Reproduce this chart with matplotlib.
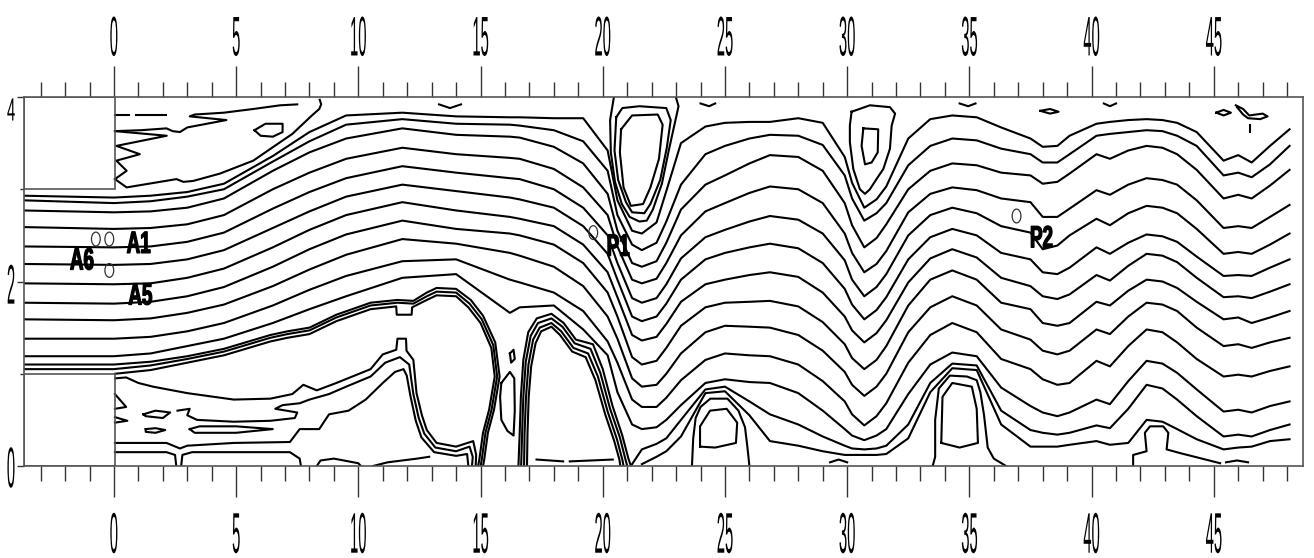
import numpy as np
import matplotlib
matplotlib.use("Agg")
import matplotlib.pyplot as plt
from matplotlib import font_manager
from matplotlib.patches import Rectangle, Ellipse
from matplotlib.patheffects import AbstractPathEffect
from matplotlib.transforms import Affine2D

nan = np.nan

xs = [-3.7, 0, 1.5, 3, 4.5, 6.5, 8, 9.5, 11.8, 14, 16.2,
      16.6, 18.0, 19.2, 20.2, 20.6, 21.2, 21.6, 22.2, 22.6, 23.2,
      24.2, 25.0, 26.0, 26.84, 28.0, 29.0, 29.9, 30.2, 30.7, 31.2, 31.6, 32.5,
      33.4, 34.3, 35.3, 36.3, 37.5, 38.0, 38.6, 39.1, 40.2, 40.75, 41.5,
      42.25, 42.9, 43.5, 44.3, 45.4, 46.0, 46.55, 47.3, 48.1]

# main streamlines, top to bottom
s01 = [2.93, 2.91, 2.93, 2.97, 3.06, 3.36, 3.62, 3.80, 3.83, 3.79, 3.78,
       3.78, 3.77, 3.77, 3.42, 2.88, 2.55, 2.52, 2.64, 2.98, 3.50,
       3.68, 3.72, 3.73, 3.73, 3.77, 3.72, 3.35, 3.07, 2.80, 2.89, 3.03, 3.55,
       3.76, 3.80, 3.78, 3.67, 3.55, 3.46, 3.47, 3.58, 3.71, 3.73, 3.75,
       3.76, 3.75, 3.72, 3.62, 3.31, 3.37, 3.29, 3.47, 3.65]
s02 = [2.88, 2.85, 2.87, 2.92, 3.00, 3.30, 3.52, 3.70, 3.76, 3.71, 3.70,
       3.69, 3.64, 3.52, 3.20, 2.72, 2.40, 2.34, 2.42, 2.65, 3.05,
       3.38, 3.47, 3.55, 3.59, 3.58, 3.48, 3.15, 2.90, 2.66, 2.74, 2.85, 3.26,
       3.47, 3.55, 3.53, 3.44, 3.38, 3.29, 3.29, 3.38, 3.58, 3.60, 3.62,
       3.64, 3.63, 3.58, 3.47, 3.15, 3.18, 3.13, 3.27, 3.47]
s03 = [2.77, 2.75, 2.76, 2.80, 2.90, 3.20, 3.40, 3.55, 3.66, 3.59, 3.57,
       3.56, 3.46, 3.28, 2.95, 2.55, 2.20, 2.16, 2.22, 2.42, 2.78,
       3.05, 3.15, 3.28, 3.37, 3.35, 3.20, 2.85, 2.61, 2.37, 2.47, 2.62, 3.00,
       3.20, 3.28, 3.26, 3.18, 3.15, 3.06, 3.08, 3.17, 3.38, 3.33, 3.42,
       3.47, 3.45, 3.38, 3.21, 2.90, 2.94, 2.90, 3.04, 3.21]
s04 = [2.59, 2.57, 2.58, 2.62, 2.72, 3.00, 3.18, 3.33, 3.45, 3.38, 3.34,
       3.33, 3.22, 3.02, 2.72, 2.38, 2.02, 1.98, 2.03, 2.20, 2.50,
       2.76, 2.85, 2.96, 3.03, 3.00, 2.85, 2.52, 2.31, 2.10, 2.19, 2.33, 2.75,
       2.95, 3.02, 2.99, 2.90, 2.86, 2.70, 2.70, 2.79, 2.99, 2.94, 3.05,
       3.12, 3.10, 3.05, 2.88, 2.58, 2.60, 2.58, 2.70, 2.83]
s05 = [2.38, 2.37, 2.38, 2.43, 2.53, 2.79, 2.97, 3.12, 3.25, 3.18, 3.12,
       3.11, 3.00, 2.80, 2.50, 2.20, 1.82, 1.77, 1.82, 1.97, 2.25,
       2.48, 2.56, 2.65, 2.71, 2.67, 2.52, 2.23, 2.02, 1.84, 1.94, 2.08, 2.50,
       2.72, 2.80, 2.74, 2.60, 2.53, 2.35, 2.39, 2.50, 2.68, 2.61, 2.74,
       2.82, 2.80, 2.74, 2.57, 2.30, 2.32, 2.30, 2.40, 2.52]
s06 = [2.19, 2.18, 2.19, 2.24, 2.34, 2.58, 2.76, 2.92, 3.05, 2.98, 2.91,
       2.89, 2.80, 2.60, 2.30, 2.02, 1.62, 1.57, 1.62, 1.76, 2.02,
       2.24, 2.31, 2.37, 2.41, 2.36, 2.20, 1.92, 1.75, 1.59, 1.69, 1.83, 2.24,
       2.48, 2.57, 2.50, 2.31, 2.24, 2.10, 2.08, 2.15, 2.37, 2.30, 2.42,
       2.51, 2.49, 2.43, 2.27, 2.06, 2.07, 2.06, 2.15, 2.24]
s07 = [1.98, 1.97, 1.98, 2.04, 2.14, 2.37, 2.56, 2.72, 2.86, 2.77, 2.70,
       2.68, 2.60, 2.40, 2.10, 1.83, 1.42, 1.36, 1.40, 1.54, 1.78,
       1.97, 2.02, 2.07, 2.10, 2.05, 1.88, 1.62, 1.47, 1.34, 1.44, 1.58, 1.99,
       2.25, 2.35, 2.26, 2.04, 1.95, 1.84, 1.81, 1.86, 2.07, 2.01, 2.17,
       2.30, 2.28, 2.21, 2.04, 1.83, 1.84, 1.82, 1.89, 1.97]
s08 = [1.77, 1.76, 1.78, 1.84, 1.94, 2.16, 2.35, 2.51, 2.66, 2.57, 2.52,
       2.50, 2.40, 2.20, 1.88, 1.62, 1.18, 1.10, 1.14, 1.28, 1.52,
       1.72, 1.77, 1.78, 1.79, 1.73, 1.56, 1.32, 1.17, 1.05, 1.15, 1.30, 1.74,
       2.02, 2.12, 2.02, 1.77, 1.70, 1.55, 1.52, 1.55, 1.78, 1.74, 1.90,
       2.02, 2.00, 1.93, 1.78, 1.59, 1.61, 1.55, 1.61, 1.68]
s09 = [1.59, 1.58, 1.60, 1.66, 1.75, 1.95, 2.13, 2.29, 2.46, 2.41, 2.31,
       2.28, 2.16, 1.95, 1.62, 1.38, 0.95, 0.86, 0.88, 1.00, 1.22,
       1.45, 1.52, 1.51, 1.50, 1.42, 1.25, 1.02, 0.88, 0.76, 0.86, 1.00, 1.45,
       1.72, 1.84, 1.74, 1.48, 1.37, 1.25, 1.21, 1.25, 1.48, 1.43, 1.62,
       1.77, 1.75, 1.68, 1.50, 1.30, 1.32, 1.28, 1.34, 1.39]
s10 = [1.38, 1.38, 1.40, 1.46, 1.55, 1.74, 1.91, 2.06, 2.22, 2.24, 2.02,
       1.99, 1.88, 1.68, 1.35, 1.12, 0.72, 0.64, 0.64, 0.74, 0.93,
       1.15, 1.22, 1.20, 1.19, 1.10, 0.92, 0.70, 0.56, 0.44, 0.54, 0.68, 1.12,
       1.42, 1.55, 1.45, 1.16, 1.05, 0.94, 0.88, 0.90, 1.14, 1.08, 1.30,
       1.48, 1.45, 1.34, 1.16, 0.97, 0.99, 0.97, 1.03, 1.08]
s11 = [1.19, 1.19, 1.22, 1.30, 1.38, 1.55, 1.70, 1.84, 2.04, 2.08, 1.66,
       1.72, 1.74, 1.48, 1.20, 0.80, 0.45, 0.40, 0.42, 0.50, 0.66,
       0.90, 0.94, 0.91, 0.90, 0.79, 0.60, 0.40, 0.33, 0.28, 0.33, 0.40, 0.78,
       1.10, 1.23, 1.19, 0.85, 0.65, 0.58, 0.54, 0.58, 0.72, 0.67, 0.92,
       1.14, 1.11, 1.01, 0.83, 0.59, 0.61, 0.58, 0.65, 0.70]
s12 = [nan, nan, nan, nan, nan, nan, nan, nan, nan, nan, nan,
       nan, nan, nan, nan, nan, 0.02, 0.18, 0.24, 0.30, 0.50,
       0.83, 0.86, 0.70, 0.56, 0.45, 0.32, 0.22, 0.19, 0.18, 0.19, 0.22, 0.45,
       0.90, 1.11, 1.09, 0.60, 0.39, 0.36, 0.34, 0.36, 0.44, 0.41, 0.62,
       0.88, 0.84, 0.72, 0.54, 0.32, 0.34, 0.32, 0.39, 0.45]
s13 = [nan, nan, nan, nan, nan, nan, nan, nan, nan, nan, nan,
       nan, nan, nan, nan, nan, nan, 0.02, 0.10, 0.16, 0.32,
       0.79, 0.81, 0.55, 0.27, 0.22, 0.16, 0.12, 0.12, 0.12, 0.12, 0.13, 0.30,
       0.80, 1.06, 1.04, 0.45, 0.21, 0.21, 0.21, 0.23, 0.27, 0.23, 0.25,
       0.50, 0.48, 0.40, 0.29, 0.18, 0.20, 0.21, 0.27, 0.29]

# upper-left separation zone
zone_lower = [(0.04, 3.11), (0.52, 3.02), (1.88, 3.08), (2.56, 3.11), (2.84, 3.08),
              (3.24, 3.09), (4.34, 3.17), (5.7, 3.31), (6.8, 3.51), (7.3, 3.60),
              (7.7, 3.70), (8.1, 3.80), (8.4, 3.87), (8.48, 3.92), (8.42, 3.97)]
zone_top = [(0.04, 3.63), (1.1, 3.64), (2.15, 3.66), (2.4, 3.63), (2.7, 3.62),
            (3.0, 3.67), (4.6, 3.75), (3.1, 3.79), (3.3, 3.81), (4.5, 3.83),
            (5.7, 3.87), (6.8, 3.91), (7.5, 3.92)]
zone_dash1 = [(0.04, 3.80), (0.6, 3.80)]
zone_dash2 = [(0.9, 3.80), (2.15, 3.80)]
zone_zig = [(0.04, 3.63), (2.16, 3.58), (0.1, 3.47), (1.06, 3.38), (0.1, 3.31),
            (0.52, 3.20), (0.04, 3.11)]
zone_loop = [(5.75, 3.64), (6.2, 3.71), (6.9, 3.71), (6.9, 3.62), (6.5, 3.57),
             (6.0, 3.58), (5.75, 3.64)]

# first (long) recirculation bubble
b1_a = [(-3.7, 1.10), (0, 1.10), (1.5, 1.13), (3, 1.19), (4.5, 1.27), (6.4, 1.42),
        (7.1, 1.46), (8.0, 1.50), (9.1, 1.64), (10.5, 1.77), (11.6, 1.80), (12.25, 1.79),
        (12.8, 1.88), (13.2, 1.93), (14.0, 1.92), (14.6, 1.80), (15.1, 1.63), (15.6, 1.34),
        (15.78, 0.97), (15.55, 0.61), (15.3, 0.36), (15.15, 0.07), (15.1, 0.0)]
b1_b = [(-3.7, 1.05), (0, 1.05), (1.5, 1.09), (3, 1.16), (4.5, 1.24), (6.4, 1.39),
        (7.1, 1.43), (8.0, 1.47), (9.1, 1.61), (10.5, 1.74), (11.6, 1.77), (12.25, 1.76),
        (12.8, 1.84), (13.2, 1.89), (14.0, 1.88), (14.55, 1.76), (15.05, 1.59), (15.52, 1.31),
        (15.68, 0.97), (15.45, 0.61), (15.2, 0.36), (15.05, 0.07), (15.0, 0.0)]
b1_c = [(0.05, 1.0), (1.5, 1.04), (3, 1.12), (4.5, 1.20), (6.4, 1.35), (7.1, 1.39),
        (8.0, 1.43), (9.1, 1.57), (10.5, 1.70), (11.55, 1.73), (11.57, 1.64), (12.18, 1.64),
        (12.2, 1.72), (12.8, 1.80), (13.2, 1.85), (14.0, 1.84), (14.5, 1.72), (15.0, 1.55),
        (15.44, 1.28), (15.58, 0.97), (15.35, 0.61), (15.1, 0.36), (14.95, 0.07), (14.9, 0.0)]
b1_hat1 = [(0.05, 0.95), (0.5, 0.96), (1.0, 0.90), (1.6, 0.86), (3.0, 0.79), (4.9, 0.72),
           (6.4, 0.73), (7.3, 0.78), (7.75, 0.88), (8.3, 0.82), (9.1, 0.90), (10.5, 1.05),
           (11.0, 1.21), (11.55, 1.26), (11.6, 1.38), (11.95, 1.38), (11.97, 1.25), (12.25, 1.15),
           (12.38, 0.79), (12.6, 0.55), (12.8, 0.39), (13.2, 0.25), (14.0, 0.21), (14.7, 0.27),
           (14.82, 0.12), (14.8, 0.0)]
b1_hat2 = [(2.6, 0.60), (3.1, 0.62), (3.0, 0.55), (3.4, 0.50), (4.9, 0.48), (6.4, 0.49),
           (7.4, 0.52), (7.5, 0.58), (6.6, 0.62), (6.9, 0.66), (7.6, 0.68), (8.0, 0.72),
           (8.8, 0.78), (9.5, 0.86), (10.5, 0.97), (11.1, 1.12), (11.7, 1.18), (12.08, 1.10),
           (12.25, 0.78), (12.47, 0.52), (12.7, 0.35), (13.15, 0.20), (14.0, 0.16), (14.55, 0.21),
           (14.68, 0.1), (14.65, 0.0)]
b1_hat3 = [(0.04, 0.25), (2.15, 0.25), (2.7, 0.19), (3.0, 0.22), (4.9, 0.25), (7.2, 0.26),
           (7.6, 0.40), (8.4, 0.40), (8.8, 0.56), (9.6, 0.60), (10.3, 0.72), (11.0, 0.90),
           (11.5, 1.02), (11.85, 1.05), (11.98, 0.98), (12.13, 0.76), (12.35, 0.49), (12.58, 0.31),
           (13.1, 0.15), (14.0, 0.11), (14.45, 0.13), (14.5, 0.0)]
b1_e = [(0.04, 0.15), (2.15, 0.15), (2.5, 0.12), (2.55, 0.0)]
b1_f = [(2.75, 0.0), (2.8, 0.12), (3.2, 0.15), (7.2, 0.15), (7.6, 0.08), (7.65, 0.0)]
b1_g = [(8.3, 0.0), (8.45, 0.06), (9.0, 0.08), (10.0, 0.03), (10.1, 0.0)]
b1_h = [(10.6, 0.0), (11.2, 0.04), (12.4, 0.08), (12.9, 0.10)]
b1_zig1 = [(0.04, 0.78), (0.5, 0.64), (0.04, 0.62)]
b1_zig2 = [(0.04, 0.53), (0.55, 0.49), (0.04, 0.47)]
b1_loop_a = [(1.2, 0.56), (1.7, 0.60), (2.3, 0.58), (2.0, 0.52), (1.3, 0.54), (1.2, 0.56)]
b1_loop_b = [(1.3, 0.40), (1.7, 0.41), (2.1, 0.39), (1.7, 0.36), (1.3, 0.37), (1.3, 0.40)]
b1_loop_c = [(3.1, 0.40), (3.5, 0.43), (5.0, 0.43), (6.5, 0.40), (5.0, 0.36), (3.3, 0.36), (3.1, 0.40)]

# between bubble 1 and bubble 2
gap_loop1 = [(15.85, 0.90), (16.2, 1.02), (16.38, 0.95), (16.4, 0.6), (16.35, 0.33),
             (16.1, 0.38), (15.85, 0.5), (15.8, 0.75), (15.85, 0.90)]
gap_loop2 = [(16.2, 1.22), (16.35, 1.26), (16.4, 1.16), (16.25, 1.12), (16.2, 1.22)]

# second bubble
b2_a = [(16.55, 0.0), (16.6, 0.35), (16.65, 0.75), (16.75, 1.15), (16.95, 1.45), (17.3, 1.60),
        (17.9, 1.65), (18.4, 1.55), (18.9, 1.37), (19.6, 1.32), (20.0, 1.05), (20.4, 0.65),
        (20.8, 0.33), (21.05, 0.08), (21.15, 0.0)]
b2_b = [(16.66, 0.0), (16.7, 0.35), (16.75, 0.75), (16.85, 1.13), (17.05, 1.41), (17.35, 1.55),
        (17.9, 1.60), (18.35, 1.51), (18.85, 1.33), (19.5, 1.27), (19.9, 1.01), (20.3, 0.62),
        (20.7, 0.31), (20.93, 0.07), (21.0, 0.0)]
b2_c = [(16.78, 0.0), (16.8, 0.35), (16.86, 0.75), (16.96, 1.10), (17.15, 1.37), (17.42, 1.50),
        (17.9, 1.55), (18.3, 1.46), (18.8, 1.28), (19.4, 1.22), (19.8, 0.97), (20.2, 0.59),
        (20.58, 0.29), (20.8, 0.07), (20.85, 0.0)]
b2_d = [(16.9, 0.0), (16.92, 0.35), (16.97, 0.75), (17.07, 1.08), (17.25, 1.33), (17.48, 1.46),
        (17.9, 1.51), (18.25, 1.42), (18.75, 1.24), (19.3, 1.18), (19.7, 0.93), (20.1, 0.56),
        (20.47, 0.27), (20.68, 0.07), (20.72, 0.0)]
b2_floor1 = [(17.29, 0.07), (18.38, 0.05)]
b2_floor2 = [(18.65, 0.05), (20.41, 0.07)]

# third and fourth bubbles, mushroom near x=43
b3_a = [(23.65, 0.0), (23.7, 0.3), (23.8, 0.52), (24.0, 0.64), (24.4, 0.73), (25.1, 0.73),
        (25.55, 0.6), (25.82, 0.42), (25.92, 0.2), (26.0, 0.0)]
b3_in = [(23.98, 0.21), (23.98, 0.43), (24.39, 0.60), (25.07, 0.62), (25.5, 0.47),
         (25.45, 0.25), (24.6, 0.20), (23.98, 0.21)]
b4_a = [(33.5, 0.0), (33.6, 0.1), (33.6, 0.5), (33.75, 0.84), (34.2, 0.98), (34.9, 0.97),
        (35.3, 0.93), (35.45, 0.8), (35.6, 0.55), (35.75, 0.2), (36.0, 0.08), (36.5, 0.0)]
b4_in = [(33.85, 0.25), (33.9, 0.75), (34.3, 0.90), (35.1, 0.86), (35.3, 0.62),
         (35.35, 0.25), (34.6, 0.20), (33.85, 0.25)]
mush = [(41.7, 0.0), (41.7, 0.12), (42.25, 0.16), (42.18, 0.36), (42.39, 0.43), (42.93, 0.43),
        (43.14, 0.36), (43.07, 0.18), (43.62, 0.14), (45.26, 0.03)]

# top bubbles
t_a = [(20.45, 3.99), (20.3, 3.75), (20.33, 3.40), (20.5, 3.08), (20.78, 2.84), (21.1, 2.70),
       (21.5, 2.65), (21.8, 2.66), (22.05, 2.78), (22.42, 3.06), (22.7, 3.42), (22.95, 3.72),
       (23.1, 3.90), (23.0, 3.99)]
t_b = [(20.55, 3.78), (20.48, 3.42), (20.63, 3.10), (20.95, 2.86), (21.2, 2.75), (21.7, 2.74),
       (21.95, 2.84), (22.35, 3.10), (22.62, 3.45), (22.78, 3.75), (22.6, 3.88), (21.5, 3.90),
       (20.8, 3.88), (20.55, 3.78)]
t_c = [(20.75, 3.65), (21.2, 3.80), (22.25, 3.81), (22.45, 3.70), (22.3, 3.33), (21.95, 3.02),
       (21.65, 2.84), (21.15, 2.82), (20.85, 3.02), (20.7, 3.40), (20.75, 3.65)]
b5_a = [(30.18, 3.84), (30.93, 3.91), (31.75, 3.89), (31.96, 3.82), (31.82, 3.69), (31.75, 3.44),
        (31.48, 3.22), (31.2, 3.11), (30.93, 3.0), (30.73, 2.95), (30.52, 3.0), (30.25, 3.22),
        (30.11, 3.51), (30.11, 3.69), (30.18, 3.84)]
b5_in = [(30.66, 3.66), (31.27, 3.65), (31.25, 3.40), (31.0, 3.29), (30.73, 3.27),
         (30.59, 3.47), (30.66, 3.66)]

# small bits along the walls
wall_bits = [
    [(13.3, 3.92), (13.75, 3.88), (14.2, 3.92)],
    [(24.0, 3.93), (24.35, 3.90), (24.6, 3.93)],
    [(34.6, 3.93), (34.95, 3.90), (35.25, 3.93)],
    [(40.5, 3.93), (40.75, 3.90), (41.0, 3.93)],
    [(37.9, 3.85), (38.3, 3.87), (38.65, 3.84), (38.3, 3.82), (37.9, 3.85)],
    [(45.1, 3.83), (45.4, 3.86), (45.7, 3.83), (45.4, 3.80), (45.1, 3.83)],
    [(45.9, 3.91), (46.2, 3.87), (46.45, 3.80), (47.0, 3.82), (47.2, 3.79), (46.9, 3.76),
     (46.4, 3.77), (46.2, 3.81), (45.95, 3.89)],
    [(46.5, 3.70), (46.5, 3.62)],
    [(29.3, 0.04), (29.65, 0.07), (30.0, 0.04)],
    [(45.5, 0.04), (45.95, 0.06), (46.4, 0.04)],
]

# probes
probe_names = ["A1", "A6", "A5", "P1", "P2"]
probe_text_xy = [(0.52, 2.31), (-1.80, 2.13), (0.59, 1.75), (20.16, 2.28), (37.48, 2.37)]
probe_marks = [(-0.74, 2.46), (-0.19, 2.46), (-0.19, 2.12), (19.61, 2.53), (36.93, 2.71)]

xtick_vals = [0, 5, 10, 15, 20, 25, 30, 35, 40, 45]
ytick_vals = [0, 2, 4]


class Tall(AbstractPathEffect):
    # stretches glyphs vertically about the baseline (condensed tall lettering)
    def __init__(self, sy, stroke=0.0):
        super().__init__()
        self.sy = sy
        self.stroke = stroke

    def draw_path(self, renderer, gc, tpath, affine, rgbFace=None):
        x0, y0 = affine.transform((0.0, 0.0))
        st = Affine2D().translate(-x0, -y0).scale(1.0, self.sy).translate(x0, y0)
        if self.stroke > 0:
            gc0 = renderer.new_gc()
            gc0.copy_properties(gc)
            gc0.set_linewidth(self.stroke)
            gc0.set_foreground(rgbFace)
            renderer.draw_path(gc0, tpath, affine + st, rgbFace)
            gc0.restore()
        else:
            renderer.draw_path(gc, tpath, affine + st, rgbFace)


def pick_font(names):
    for n in names:
        try:
            font_manager.findfont(font_manager.FontProperties(family=n), fallback_to_default=False)
            return n
        except Exception:
            pass
    return "DejaVu Sans"


narrow = pick_font(["Liberation Sans Narrow", "Liberation Sans", "DejaVu Sans"])
wscale = 1.0 if narrow == "Liberation Sans Narrow" else 0.82

fig = plt.figure(figsize=(13.14, 5.58), dpi=100)
ax = fig.add_axes([24 / 1314, 92 / 558, 1279 / 1314, 369 / 558])
ax.set_xlim(-3.68, 48.65)
ax.set_ylim(0, 4)

lw = 1.5
for s in [s01, s02, s03, s04, s05, s06, s07, s08, s09, s10, s11, s12, s13]:
    ax.plot(xs, s, color="black", lw=lw)

pieces = [zone_lower, zone_top, zone_dash1, zone_dash2, zone_zig, zone_loop,
          b1_a, b1_b, b1_c, b1_hat1, b1_hat2, b1_hat3, b1_e, b1_f, b1_g, b1_h,
          b1_zig1, b1_zig2, b1_loop_a, b1_loop_b, b1_loop_c, gap_loop1, gap_loop2,
          b2_a, b2_b, b2_c, b2_d, b2_floor1, b2_floor2, b3_a, b3_in, b4_a, b4_in, mush,
          t_a, t_b, t_c, b5_a, b5_in] + wall_bits
for p in pieces:
    px, py = zip(*p)
    ax.plot(px, py, color="black", lw=lw)

# solid blocks at the inlet
for y0 in (0, 3):
    ax.add_patch(Rectangle((-3.68, y0), 3.72, 1, fill=False, ec="#555555", lw=1.2, zorder=3))

for (mx, my) in probe_marks:
    ax.add_patch(Ellipse((mx, my), 0.36, 0.15, fill=False, ec="#333333", lw=0.9, zorder=4))


def tall_text(x, y, s, size, height_px, bold=False, ha="left", stroke=0.0):
    sy = height_px / (0.716 * size * 100 / 72)
    ax.text(x, y, s, fontsize=size, family=narrow, fontweight="bold" if bold else "normal",
            ha=ha, va="baseline", color="black", clip_on=False,
            path_effects=[Tall(sy, stroke)])


for name, (tx, ty) in zip(probe_names, probe_text_xy):
    tall_text(tx, ty, name, 16.5 * wscale, 22, bold=True, stroke=0.9)

for v in xtick_vals:
    tall_text(v, 4.45, str(v), 13 * wscale, 40, ha="center")
    tall_text(v, -0.94, str(v), 13 * wscale, 41, ha="center")

tall_text(-4.21, 1.76, "2", 13 * wscale, 40, ha="center")
tall_text(-4.21, -0.23, "0", 13 * wscale, 41, ha="center")
tall_text(-4.21, 3.745, "4", 13 * wscale, 23, ha="center")

# axes frame and ticks
for sp in ax.spines.values():
    sp.set_color("#555555")
    sp.set_linewidth(1.2)
ax.set_xticks(xtick_vals)
ax.set_xticks(range(-3, 49), minor=True)
ax.set_yticks(ytick_vals)
ax.set_yticks([1, 3], minor=True)
ax.tick_params(axis="x", which="both", top=True, bottom=True, direction="out",
               labelbottom=False, labeltop=False, color="#333333", width=1.0)
ax.tick_params(axis="x", which="major", length=22)
ax.tick_params(axis="x", which="minor", length=11)
ax.tick_params(axis="y", which="both", left=True, right=False, direction="out",
               labelleft=False, color="#333333", width=1.0)
ax.tick_params(axis="y", which="major", length=5)
ax.tick_params(axis="y", which="minor", length=3)

fig.savefig("out.png", dpi=100)
